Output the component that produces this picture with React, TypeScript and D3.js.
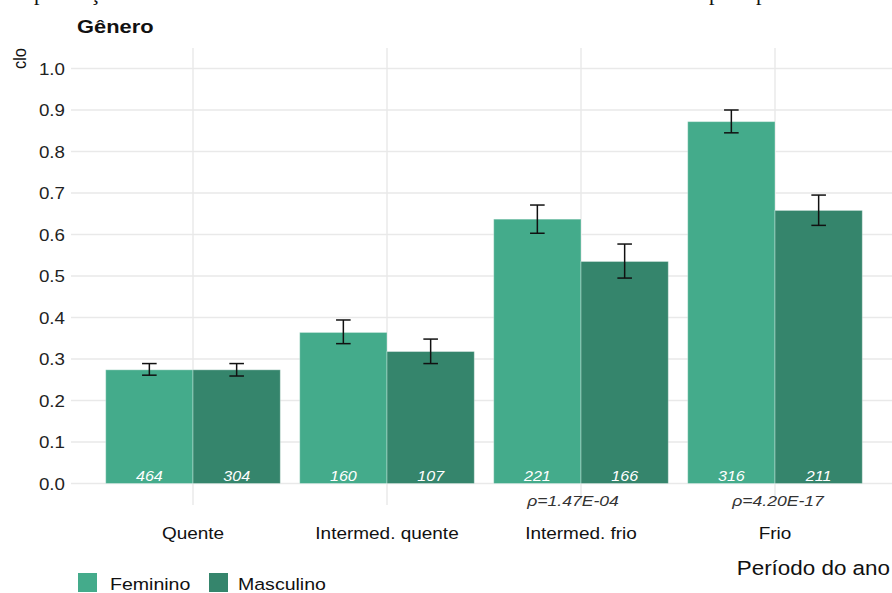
import React from "react";
import * as d3 from "d3";

const categories = ["Quente", "Intermed. quente", "Intermed. frio", "Frio"];
const groups = ["Feminino", "Masculino"];
const femValues = [0.274, 0.364, 0.637, 0.872];
const femLow = [0.261, 0.337, 0.603, 0.845];
const femHigh = [0.289, 0.394, 0.671, 0.9];
const mascValues = [0.274, 0.318, 0.535, 0.658];
const mascLow = [0.259, 0.289, 0.495, 0.622];
const mascHigh = [0.289, 0.348, 0.577, 0.695];
const femN = ["464", "160", "221", "316"];
const mascN = ["304", "107", "166", "211"];
const pLabels = ["", "", "ρ=1.47E-04", "ρ=4.20E-17"];
const yTicks = [0, 0.1, 0.2, 0.3, 0.4, 0.5, 0.6, 0.7, 0.8, 0.9, 1.0];
const colors = ["#44ab8b", "#35856c"];

const W = 892;
const H = 593;
const SX = 1.15;
const FONT = "'Liberation Sans', Arial, sans-serif";

function T(props: {
  x: number; y: number; size: number; anchor?: string; weight?: string;
  italic?: boolean; fill?: string; children: React.ReactNode;
}) {
  const { x, y, size, anchor = "start", weight = "normal", italic = false, fill = "#1a1a1a", children } = props;
  return (
    <text
      transform={`translate(${x},${y}) scale(${SX},1)`}
      textAnchor={anchor}
      fontSize={size}
      fontWeight={weight}
      fontStyle={italic ? "italic" : "normal"}
      fontFamily={FONT}
      fill={fill}
    >
      {children}
    </text>
  );
}

export default function App() {
  const panelLeft = 71;
  const panelRight = 892;
  const x = d3.scaleBand<string>().domain(categories).range([96, 872]).paddingInner(0).paddingOuter(0);
  const step = x.step();
  const barW = step * 0.45;
  const y = d3.scaleLinear().domain([0, 1]).range([483.5, 68.5]);
  const pNudge = [0, 0, -8, 3];

  const series = [
    { vals: femValues, lo: femLow, hi: femHigh, n: femN },
    { vals: mascValues, lo: mascLow, hi: mascHigh, n: mascN },
  ];

  return (
    <svg width={W} height={H} style={{ position: "absolute", left: 0, top: 0, background: "#fff" }}>
      {/* clipped text from document above */}
      <g fontFamily="'Liberation Serif', serif" fontSize={22} fill="#111">
        <text x={34} y={0}>p</text>
        <text x={90} y={0}>ç</text>
        <text x={709} y={0}>p</text>
        <text x={756} y={0}>p</text>
      </g>

      {/* gridlines */}
      {yTicks.map((t) => (
        <line key={"h" + t} x1={panelLeft} x2={panelRight} y1={y(t)} y2={y(t)} stroke="#e9e9e9" strokeWidth={1.4} />
      ))}
      {categories.map((c) => {
        const cx = (x(c) as number) + step / 2;
        return <line key={"v" + c} x1={cx} x2={cx} y1={48} y2={505} stroke="#e9e9e9" strokeWidth={1.4} />;
      })}

      {/* bars */}
      {series.map((s, gi) =>
        categories.map((c, ci) => {
          const cx = (x(c) as number) + step / 2;
          const bx = cx - barW + gi * barW;
          return (
            <rect
              key={`b${gi}-${ci}`}
              x={bx}
              y={y(s.vals[ci])}
              width={barW}
              height={y(0) - y(s.vals[ci])}
              fill={colors[gi]}
              stroke="rgba(255,255,255,0.35)"
              strokeWidth={1}
            />
          );
        })
      )}

      {/* error bars */}
      {series.map((s, gi) =>
        categories.map((c, ci) => {
          const cx = (x(c) as number) + step / 2;
          const mx = cx - barW / 2 + gi * barW;
          const cap = 7.3;
          return (
            <g key={`e${gi}-${ci}`} stroke="#111" strokeWidth={1.5}>
              <line x1={mx} x2={mx} y1={y(s.hi[ci])} y2={y(s.lo[ci])} />
              <line x1={mx - cap} x2={mx + cap} y1={y(s.hi[ci])} y2={y(s.hi[ci])} />
              <line x1={mx - cap} x2={mx + cap} y1={y(s.lo[ci])} y2={y(s.lo[ci])} />
            </g>
          );
        })
      )}

      {/* n labels */}
      {series.map((s, gi) =>
        categories.map((c, ci) => {
          const cx = (x(c) as number) + step / 2;
          const mx = cx - barW / 2 + gi * barW;
          return (
            <T key={`n${gi}-${ci}`} x={mx} y={481} size={14} anchor="middle" italic fill="#ffffff">
              {s.n[ci]}
            </T>
          );
        })
      )}

      {/* p labels */}
      {categories.map((c, ci) =>
        pLabels[ci] ? (
          <T key={"p" + ci} x={(x(c) as number) + step / 2 + pNudge[ci]} y={506} size={15.3} anchor="middle" italic fill="#333">
            {pLabels[ci]}
          </T>
        ) : null
      )}

      {/* y tick labels */}
      {yTicks.map((t) => (
        <T key={"yt" + t} x={65} y={y(t) + 6} size={16.3} anchor="end" fill="#222">
          {t.toFixed(1)}
        </T>
      ))}

      {/* x category labels */}
      {categories.map((c) => (
        <T key={"xl" + c} x={(x(c) as number) + step / 2} y={539} size={16.5} anchor="middle" fill="#111">
          {c}
        </T>
      ))}

      {/* y title */}
      <text
        transform={`translate(26,48) rotate(-90) scale(1,${SX})`}
        textAnchor="end"
        fontSize={16.5}
        fontFamily={FONT}
        fill="#111"
      >
        clo
      </text>

      {/* x title */}
      <T x={890} y={575} size={19.5} anchor="end" fill="#111">Período do ano</T>

      {/* legend title */}
      <T x={77} y={33} size={19} weight="bold" fill="#111">Gênero</T>

      {/* legend */}
      {groups.map((g, i) => {
        const lx = i === 0 ? 78 : 209;
        const tx = i === 0 ? 110 : 238;
        return (
          <g key={"lg" + g}>
            <rect x={lx} y={573} width={19} height={19} fill={colors[i]} />
            <T x={tx} y={590} size={17} fill="#111">{g}</T>
          </g>
        );
      })}
    </svg>
  );
}
